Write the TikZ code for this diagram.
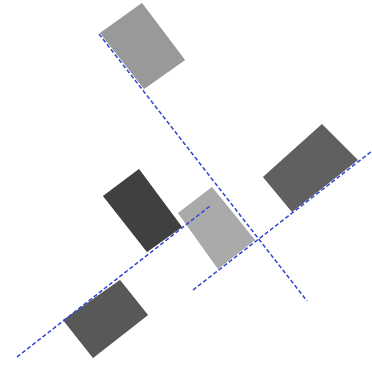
\documentclass[tikz,border=0pt]{standalone}
\begin{document}
\begin{tikzpicture}[x=1pt,y=-1pt,
  guide/.style={draw={rgb,255:red,55;green,75;blue,215},line width=1.4pt,dash pattern=on 4pt off 2.5pt},
  block/.style={draw=none}]
\useasboundingbox (0,0) rectangle (372,365);
\fill[white] (0,0) rectangle (372,365);
% blocks
\fill[block,fill={rgb,255:red,153;green,153;blue,153}] (100,33) -- (142,3) -- (185,60) -- (144,89) -- cycle;
\fill[block,fill={rgb,255:red,64;green,64;blue,64}] (103,196) -- (139,169) -- (182,227) -- (147,252) -- cycle;
\fill[block,fill={rgb,255:red,170;green,170;blue,170}] (178,213) -- (212,187) -- (255,240) -- (218,269) -- cycle;
\fill[block,fill={rgb,255:red,96;green,96;blue,96}] (263,177) -- (322,124) -- (358,160) -- (292,212) -- cycle;
\fill[block,fill={rgb,255:red,88;green,88;blue,88}] (63,320) -- (120,280) -- (148,315) -- (93,358) -- cycle;
% guides
\coordinate (g1a) at (99,34); \coordinate (g1b) at (307,301);
\coordinate (g2a) at (17,357); \coordinate (g2b) at (210,206);
\coordinate (g3a) at (193,290); \coordinate (g3b) at (372,151);
\draw[guide] (g1a) -- (g1b);
\draw[guide] (g2a) -- (g2b);
\draw[guide] (g3a) -- (g3b);
\end{tikzpicture}
\end{document}
